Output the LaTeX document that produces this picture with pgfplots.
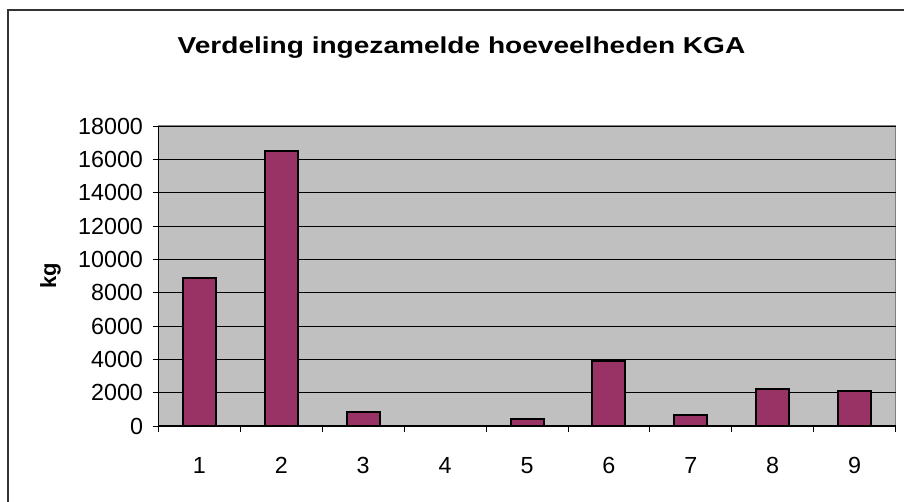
\documentclass[border=0pt]{standalone}
\usepackage{fontspec}
\setmainfont{Liberation Sans}
\usepackage{graphicx}
\usepackage{pgfplots}
\pgfplotsset{compat=1.18}
\definecolor{plotbg}{HTML}{C0C0C0}
\definecolor{barcol}{HTML}{993366}
\definecolor{framecol}{HTML}{333333}
\begin{document}
\begin{tikzpicture}
\useasboundingbox (0,0) rectangle (904pt,502pt);
\fill[white] (0,0) rectangle (904pt,502pt);
\draw[framecol,line width=2pt] (7.5pt,0) -- (7.5pt,491.5pt) -- (904pt,491.5pt);
\node[anchor=base] at (461.5pt,448.7pt) {\scalebox{1.22}[1]{\fontsize{23}{27}\selectfont\bfseries Verdeling ingezamelde hoeveelheden KGA}};
\begin{axis}[
  at={(158.5pt,76pt)}, anchor=south west,
  scale only axis, width=737pt, height=300pt,
  xmin=0.5, xmax=9.5, ymin=0, ymax=18000,
  ytick={0,2000,...,18000},
  scaled y ticks=false,
  xtick={0.5,1.5,...,9.5}, xticklabels={},
  extra x ticks={1,2,3,4,5,6,7,8,9},
  extra x tick labels={1,2,3,4,5,6,7,8,9},
  extra x tick style={major tick length=0pt, grid=none},
  axis x line*=bottom, axis y line*=left,
  axis line style={black, line width=1pt},
  axis background/.style={fill=plotbg, draw=gray, line width=1pt},
  tick align=outside, major tick length=6pt,
  tick style={black, line width=0.8pt},
  ymajorgrids, grid style={black, line width=0.8pt},
  /pgf/number format/assume math mode=true,
  /pgf/number format/1000 sep={},
  ticklabel style={font=\fontsize{23.3}{27}\selectfont},
  xticklabel style={yshift=-28pt},
  yticklabel style={xshift=-6pt},
  ylabel={kg},
  ylabel style={font=\fontsize{22}{26}\selectfont\bfseries, at={(axis description cs:-0.1465,0.5)}, anchor=center},
  ybar, bar width=33pt,
]
\addplot[fill=barcol, draw=black, line width=2pt] coordinates {
(1,8880) (2,16500) (3,840) (4,0) (5,440) (6,3880) (7,680) (8,2200) (9,2120)
};
\end{axis}
\end{tikzpicture}
\end{document}
